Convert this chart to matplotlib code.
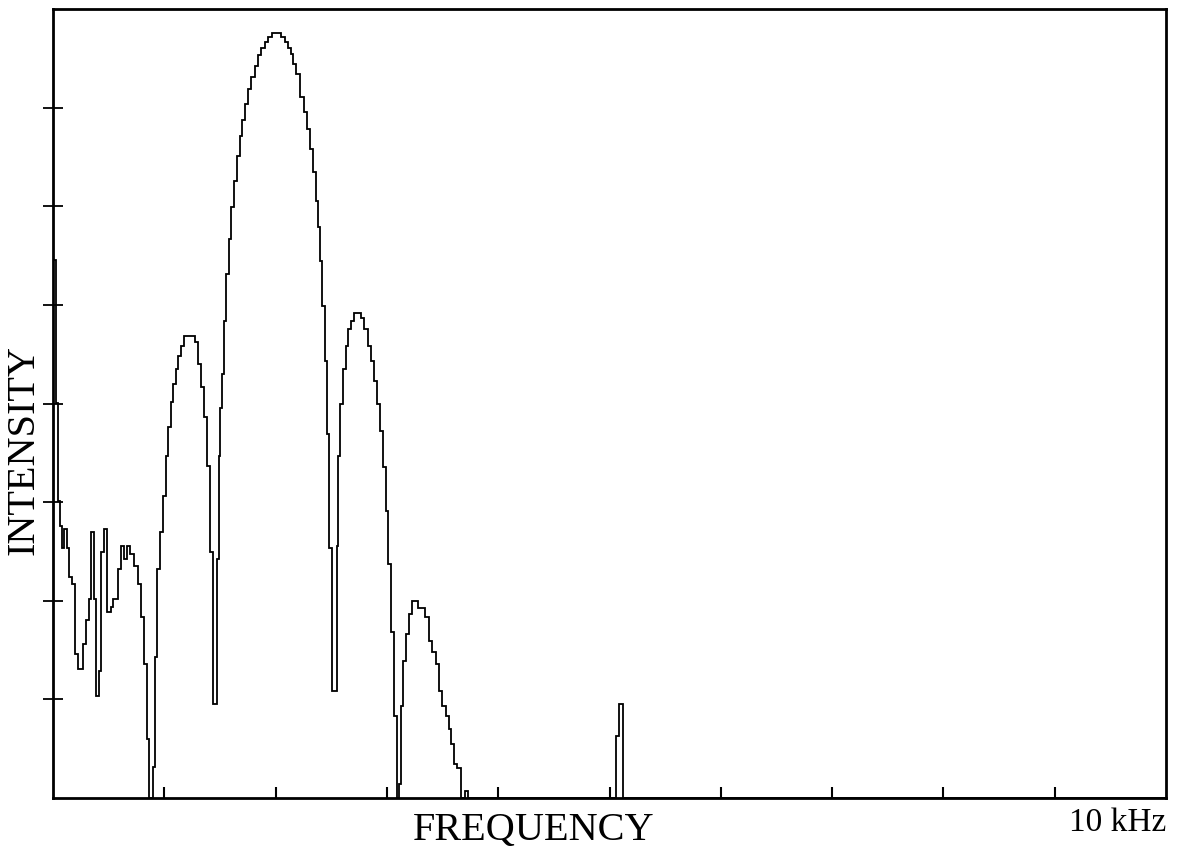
import matplotlib
matplotlib.use('Agg')
import matplotlib.pyplot as plt

# step spectrum: left edge of each step (kHz) and its height
freq_left = [0.000, 0.027, 0.045, 0.063, 0.081, 0.099, 0.126, 0.144, 0.171, 0.198,
             0.225, 0.270, 0.296, 0.323, 0.341, 0.368, 0.386, 0.413, 0.431, 0.458,
             0.485, 0.521, 0.539, 0.584, 0.611, 0.638, 0.665, 0.692, 0.728, 0.764,
             0.791, 0.818, 0.845, 0.863, 0.898, 0.916, 0.934, 0.961, 0.988, 1.015,
             1.033, 1.060, 1.078, 1.105, 1.123, 1.150, 1.177, 1.276, 1.303, 1.330,
             1.357, 1.384, 1.411, 1.438, 1.473, 1.491, 1.500, 1.518, 1.536, 1.554,
             1.581, 1.599, 1.626, 1.653, 1.680, 1.698, 1.725, 1.752, 1.779, 1.815,
             1.842, 1.869, 1.905, 1.932, 1.968, 2.049, 2.084, 2.111, 2.138, 2.156,
             2.183, 2.219, 2.255, 2.282, 2.309, 2.336, 2.363, 2.381, 2.399, 2.417,
             2.444, 2.462, 2.480, 2.507, 2.552, 2.561, 2.579, 2.606, 2.633, 2.650,
             2.677, 2.704, 2.767, 2.794, 2.830, 2.857, 2.884, 2.911, 2.938, 2.965,
             2.992, 3.010, 3.037, 3.064, 3.091, 3.109, 3.127, 3.145, 3.172, 3.199,
             3.226, 3.279, 3.342, 3.378, 3.405, 3.441, 3.468, 3.495, 3.531, 3.558,
             3.576, 3.603, 3.630, 3.666, 3.702, 3.729, 5.058, 5.085, 5.121]
intensity = [5.45, 4.01, 3.01, 2.76, 2.53, 2.73, 2.53, 2.24, 2.17, 1.46,
             1.31, 1.56, 1.80, 2.02, 2.70, 2.02, 1.03, 1.29, 2.49, 2.73,
             1.89, 1.94, 2.02, 2.32, 2.56, 2.42, 2.56, 2.47, 2.35, 2.17,
             1.84, 1.36, 0.60, 0.00, 0.31, 1.43, 2.32, 2.70, 3.06, 3.47,
             3.76, 4.02, 4.20, 4.35, 4.48, 4.58, 4.68, 4.62, 4.40, 4.17,
             3.86, 3.37, 2.49, 0.95, 2.42, 3.47, 3.95, 4.30, 4.84, 5.31,
             5.67, 5.99, 6.26, 6.51, 6.71, 6.87, 7.04, 7.19, 7.31, 7.42,
             7.53, 7.60, 7.67, 7.72, 7.76, 7.72, 7.67, 7.60, 7.54, 7.44,
             7.34, 7.11, 6.96, 6.78, 6.58, 6.35, 6.05, 5.79, 5.44, 4.99,
             4.43, 3.69, 2.53, 1.08, 2.56, 3.47, 4.00, 4.35, 4.58, 4.76,
             4.84, 4.92, 4.87, 4.76, 4.58, 4.43, 4.23, 4.00, 3.72, 3.36,
             2.91, 2.37, 1.68, 0.83, 0.00, 0.14, 0.93, 1.39, 1.66, 1.87,
             2.00, 1.93, 1.84, 1.59, 1.48, 1.36, 1.08, 0.93, 0.83, 0.70,
             0.55, 0.34, 0.30, 0.00, 0.07, 0.00, 0.63, 0.95, 0.00]
freq_max = 10.0
xticks = [1, 2, 3, 4, 5, 6, 7, 8, 9]
yticks = [1, 2, 3, 4, 5, 6, 7]

serif = ['Liberation Serif', 'DejaVu Serif']

fig = plt.figure(figsize=(11.89, 8.54), dpi=100)
ax = fig.add_axes([53/1189, 1 - 799/854, (1166 - 53)/1189, (799 - 10)/854])

ax.stairs(intensity, freq_left + [freq_max], color='black', lw=1.3, baseline=0)

ax.set_xlim(0, freq_max)
ax.set_ylim(0, 8)
ax.set_xticks(xticks)
ax.set_yticks(yticks)
ax.set_xticklabels([])
ax.set_yticklabels([])
ax.tick_params(axis='x', direction='in', length=8, width=1.5, top=False)
ax.tick_params(axis='y', direction='inout', length=14, width=1.3, right=False)
for s in ax.spines.values():
	s.set_linewidth(2)
	s.set_color('black')

fig.text(534/1189, 1 - 831/854, 'FREQUENCY', family=serif, fontsize=29,
         ha='center', va='center')
fig.text(24/1189, 1 - 450/854, 'INTENSITY', family=serif, fontsize=29,
         rotation=90, ha='center', va='center')
fig.text(1166/1189, 1 - 823/854, '10 kHz', family=serif, fontsize=24,
         ha='right', va='center')

fig.savefig('out.png', dpi=100)
